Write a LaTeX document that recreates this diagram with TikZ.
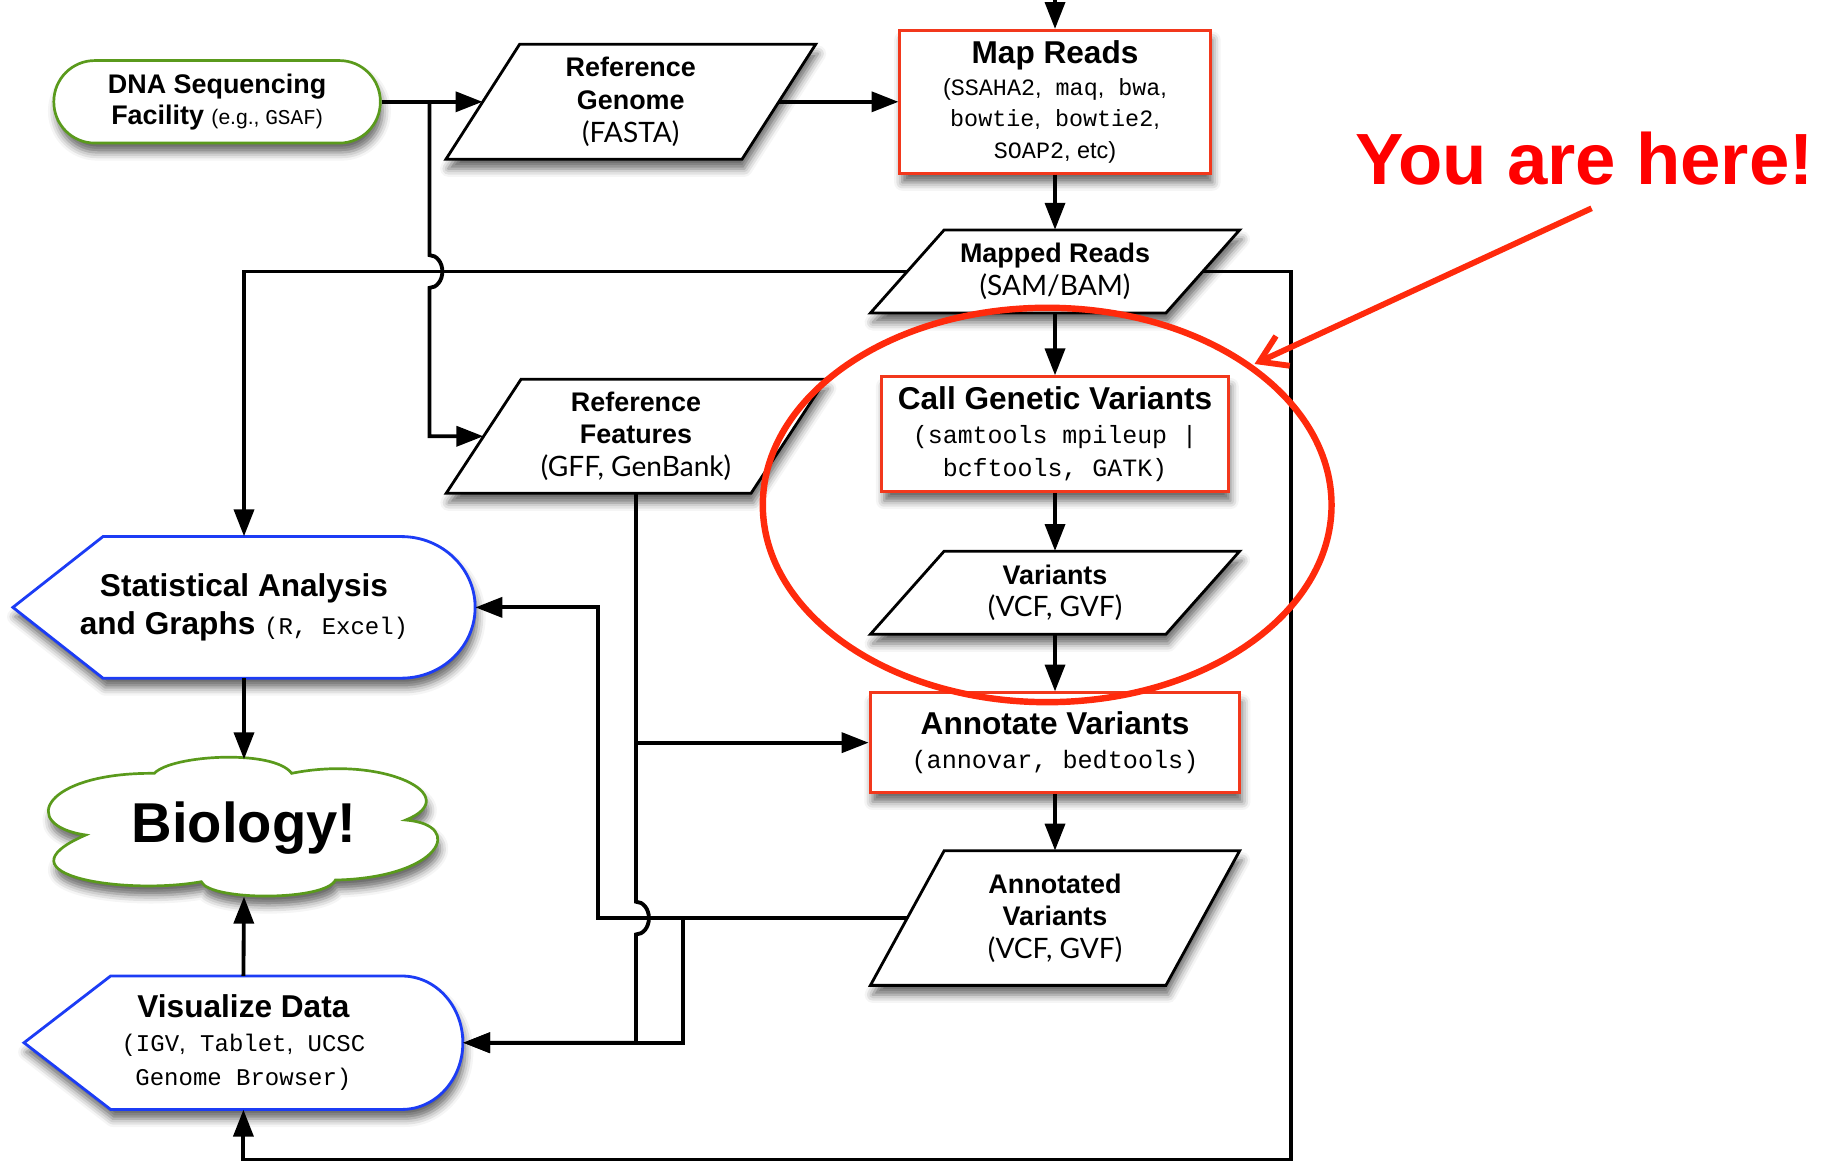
\documentclass[tikz,border=0pt]{standalone}
\usepackage{fontspec}
\setmainfont{Liberation Sans}
\newfontfamily\monof{Liberation Mono}
\newfontfamily\gillf{Lato}
\usetikzlibrary{arrows.meta,shadows.blur,calc}
\definecolor{redb}{HTML}{F2381C}
\definecolor{elred}{HTML}{FF2A0C}
\definecolor{grn}{HTML}{5A9A1C}
\definecolor{blu}{HTML}{1C3CF5}
\newcommand\Ttl[1]{{\rmfamily\bfseries\fontsize{27}{28}\selectfont #1}}
\newcommand\Sttl[1]{{\rmfamily\bfseries\fontsize{23}{28}\selectfont #1}}
\tikzset{
  shad/.style={blur shadow={shadow xshift=2pt,shadow yshift=-8pt,shadow blur radius=7pt,shadow opacity=60}},
  conn/.style={line width=3.3pt,draw=black,-{Triangle[length=23pt,width=17pt]}},
  redbox/.style={draw=redb,line width=2.5pt,fill=white,shad,inner sep=0pt,align=center},
  paratext/.style={inner sep=0pt,align=center,font=\gillf\fontsize{24}{28}\selectfont},
  paraline/.style={draw=black,line width=2.4pt,fill=white,shad,line join=miter},
  dispbox/.style={inner sep=0pt,align=center},
  displine/.style={draw=blu,line width=2.4pt,fill=white,shad},
  cloudline/.style={draw=grn,line width=2.3pt,fill=white,shad},
}
% name, cx, cy, midwidth, height, halfslant, text
\newcommand\paral[7]{%
  \draw[paraline] ({#2-#4/2+#6},{#3-#5/2}) -- ({#2+#4/2+#6},{#3-#5/2})
      -- ({#2+#4/2-#6},{#3+#5/2}) -- ({#2-#4/2-#6},{#3+#5/2}) -- cycle;
  \node[paratext,minimum width=#4pt,minimum height=#5pt] (#1) at (#2,#3) {#7};}
\begin{document}
\begin{tikzpicture}[x=1pt,y=-1pt]
\useasboundingbox (0,0) rectangle (1568,992);

% DNA sequencing facility
\node[draw=grn,line width=2.3pt,fill=white,shad,rounded corners=35pt,minimum width=279pt,minimum height=70.5pt,inner sep=0pt,align=center,
      font=\bfseries\fontsize{23}{26.8}\selectfont] (dna) at (185.5,87)
  {DNA Sequencing\\Facility {\mdseries\fontsize{18}{26.8}\selectfont (e.g., {\monof GSAF})}};

% parallelograms
\paral{rg}{539}{87}{253}{98.3}{31.5}{\Sttl{Reference}\\\Sttl{Genome}\\(FASTA)}
\paral{rf}{543.5}{372.8}{260.5}{97.5}{32}{\Sttl{Reference}\\\Sttl{Features}\\(GFF, GenBank)}
\paral{mr}{901.5}{232}{252.5}{71}{31.5}{\Sttl{Mapped Reads}\\(SAM/BAM)}
\paral{var}{901.5}{506.5}{252.5}{71}{31.5}{\Sttl{Variants}\\(VCF, GVF)}
\paral{av}{901.5}{784.5}{252.5}{115}{31.5}{\Sttl{Annotated}\\\Sttl{Variants}\\(VCF, GVF)}

% red process boxes
\node[redbox,minimum width=265pt,minimum height=122pt,font=\monof\fontsize{20}{27}\selectfont] (map) at (901.5,87)
  {\Ttl{Map Reads}\\{\rmfamily(}SSAHA2{\rmfamily,} maq{\rmfamily,} bwa{\rmfamily,}\\bowtie{\rmfamily,} bowtie2{\rmfamily,}\\SOAP2{\rmfamily, etc)}};
\node[redbox,minimum width=296pt,minimum height=98pt,font=\monof\fontsize{21.3}{28.5}\selectfont] (call) at (901.5,371)
  {\Ttl{Call Genetic Variants}\\(samtools mpileup |\\bcftools, GATK)};
\node[redbox,minimum width=316pt,minimum height=85pt,font=\monof\fontsize{21.5}{29}\selectfont] (ann) at (901.5,634.6)
  {\Ttl{Annotate Variants}\\(annovar, bedtools)};

% display shapes
\draw[displine] (11,519) -- (88,458.5) -- (343,458.5)
    arc[start angle=90,end angle=-90,x radius=63pt,y radius=60.5pt] -- (88,579.5) -- cycle;
\node[dispbox,minimum width=395pt,minimum height=121pt,font=\bfseries\fontsize{27}{33}\selectfont] (stat) at (208.5,519)
  {Statistical Analysis\\and Graphs {\mdseries\monof\fontsize{20.5}{33}\selectfont (R, Excel)}};
\draw[displine] (20.5,891) -- (94.5,834) -- (343.5,834)
    arc[start angle=90,end angle=-90,x radius=52pt,y radius=57pt] -- (94.5,948) -- cycle;
\node[dispbox,minimum width=375pt,minimum height=114pt,font=\monof\fontsize{20.5}{29}\selectfont] (vis) at (208,891)
  {\Ttl{Visualize Data}\\(IGV{\rmfamily,} Tablet{\rmfamily,} UCSC\\Genome Browser)};

% cloud
\draw[cloudline] (73.2,713.5) .. controls (15.2,705) and (37.1,660) .. (131.9,660.8)
   .. controls (146.5,645) and (234.1,640) .. (249.2,660.8)
   .. controls (327.2,645) and (398.3,680) .. (346.7,700.7)
   .. controls (398.3,705) and (376.4,750) .. (286.6,752)
   .. controls (277.9,770) and (179.4,770) .. (172,753.4)
   .. controls (108.2,765) and (-6.7,748) .. cycle;
\node[inner sep=0pt,minimum width=300pt,minimum height=117pt,font=\bfseries\fontsize{48}{48}\selectfont] (bio) at (208.5,707.5) {Biology!};

% You are here
\node[anchor=base,text=red,inner sep=0pt,font=\bfseries\fontsize{62}{62}\selectfont] (yah) at (1354,157.5) {You are here!};

% coordinates
\coordinate (topin) at (901.5,-5);
\coordinate (j1) at (367,87);
\coordinate (k1) at (511,784.5);
\coordinate (k2) at (583.7,784.5);
\coordinate (corner) at (1103,991);
\coordinate (yahs) at (1360,178);
\coordinate (yaht) at (1072,311);

% connectors
\draw[conn] (topin) -- (map.north);
\draw[conn] (dna.east) -- (rg.west);
\draw[conn] (rg.east) -- (map.west);
\draw[conn] (map.south) -- (mr.north);
\draw[conn] (mr.south) -- (call.north);
\draw[conn] (call.south) -- (var.north);
\draw[conn] (var.south) -- (ann.north);
\draw[conn] (ann.south) -- (av.north);
\draw[conn] (mr.west) -| (stat.north);
\draw[conn] (mr.east) -| (corner) -| (vis.south);
\draw[conn] (j1) -- ([yshift=14pt]j1 |- mr.west)
   arc[start angle=90,end angle=-90,x radius=11pt,y radius=14pt] |- (rf.west);
\draw[conn] (rf.south) -- ([yshift=14pt]rf.south |- av.west)
   arc[start angle=90,end angle=-90,x radius=11pt,y radius=14pt] |- (vis.east);
\draw[conn] (rf.south |- ann.west) -- (ann.west);
\draw[conn] (av.west) -- (k1) |- (stat.east);
\draw[conn] (k2) |- (vis.east);
\draw[conn] (stat.south) -- (bio.north);
\draw[conn] (vis.north) -- (bio.south);

% red highlight
\draw[elred,line width=5.5pt] (894.8,431.5) ellipse[x radius=243pt,y radius=168.5pt];
\draw[elred,line width=5pt,-{Straight Barb[length=22pt,width=28pt]}] (yahs) -- (yaht);
\end{tikzpicture}
\end{document}
